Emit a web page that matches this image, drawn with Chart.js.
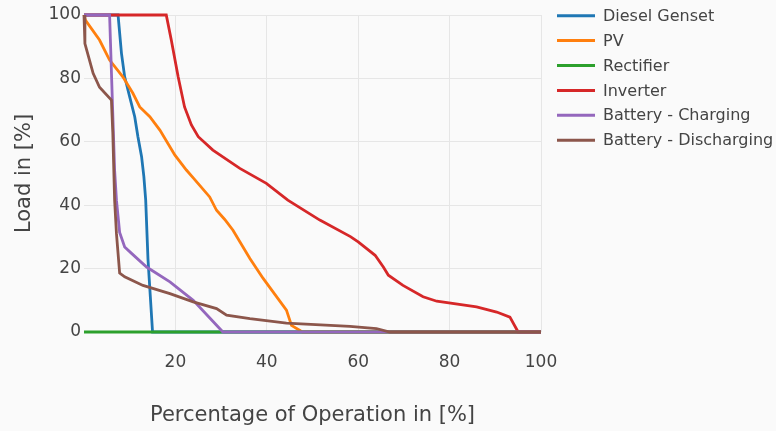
<!DOCTYPE html>
<html>
<head>
<meta charset="utf-8">
<script src="https://cdn.jsdelivr.net/npm/chart.js@4.4.1/dist/chart.umd.min.js"></script>
<style>
  html, body { margin: 0; padding: 0; background: #fafafa; }
  #wrap { width: 776px; height: 431px; position: relative; }
</style>
</head>
<body>
<div id="wrap"><canvas id="c" width="776" height="431"></canvas></div>
<script>
// Load duration curves: share of operating time (x, %) at or above each load level (y, %)
const seriesNames = ['Diesel Genset', 'PV', 'Rectifier', 'Inverter', 'Battery - Charging', 'Battery - Discharging'];
const seriesColors = ['#1f77b4', '#ff7f0e', '#2ca02c', '#d62728', '#9467bd', '#8c564b'];

const xTicks = [0, 20, 40, 60, 80, 100];
const yTicks = [0, 20, 40, 60, 80, 100];

const dieselX = [0, 7.45, 8.2, 8.9, 10.0, 11.1, 11.8, 12.6, 13.1, 13.5, 14.0, 15.0, 100];
const dieselY = [100, 100, 87.9, 80.5, 74.2, 67.9, 61.6, 55.3, 49, 41.6, 23, 0, 0];

const pvX = [0, 0.3, 3.4, 5.6, 8.5, 10.7, 12.2, 14.4, 16.6, 19.9, 22.4, 23.9, 27.5, 29.0, 30.8, 32.6, 36.3, 39.2, 44.3, 45.4, 47.8, 100];
const pvY = [100, 98.4, 92.1, 85.8, 80.5, 75.3, 71, 67.9, 63.7, 55.8, 51.1, 48.6, 42.6, 38.4, 35.5, 32.1, 23.2, 16.9, 6.9, 2.1, 0, 0];

const rectifierX = [0, 100];
const rectifierY = [0, 0];

const inverterX = [0, 18.0, 19.1, 20.6, 22.0, 23.5, 25.0, 28.2, 34.1, 39.9, 44.6, 51.6, 58.3, 60.0, 63.7, 65.5, 66.6, 69.8, 74.2, 77.2, 85.9, 90.3, 93.2, 95.0, 100];
const inverterY = [100, 100, 92.1, 80.5, 71, 65.3, 61.6, 57.4, 51.6, 46.9, 41.6, 35.3, 30.1, 28.4, 24.2, 20.5, 17.9, 14.7, 11.1, 9.7, 7.9, 6.3, 4.7, 0, 0];

const chargingX = [0, 5.6, 6.35, 6.7, 7.1, 7.8, 8.9, 10.4, 13.7, 18.8, 23.9, 30.4, 100];
const chargingY = [100, 100, 66.5, 51, 41.6, 31.4, 26.8, 24.8, 20.5, 15.8, 10, 0, 0];

const dischargingX = [0, 0.2, 2.0, 3.4, 6.0, 6.3, 6.7, 7.1, 7.8, 8.9, 12.9, 18.8, 23.9, 29.0, 31.2, 36.3, 44.3, 58.2, 64.0, 66.9, 100];
const dischargingY = [100, 91, 81.6, 77.2, 73.2, 63, 41.6, 31.1, 18.6, 17.4, 14.7, 12.1, 9.5, 7.4, 5.3, 4.2, 2.8, 1.8, 1.1, 0, 0];

const seriesX = [dieselX, pvX, rectifierX, inverterX, chargingX, dischargingX];
const seriesY = [dieselY, pvY, rectifierY, inverterY, chargingY, dischargingY];

const FONT = 'DejaVu Sans';
const TEXT = '#444';
const GRID = '#e6e6e6';

const datasets = seriesNames.map((name, i) => ({
  label: name,
  data: seriesX[i].map((x, k) => ({ x: x, y: seriesY[i][k] })),
  borderColor: seriesColors[i],
  backgroundColor: seriesColors[i],
  borderWidth: 2.8,
  pointRadius: 0,
  tension: 0,
  fill: false,
  clip: false,
  // later series paint over earlier ones
  order: seriesNames.length - i
}));

// Legend drawn as line samples with labels to the right of the plot
const seriesKey = {
  id: 'seriesKey',
  afterDraw(chart) {
    const ctx = chart.ctx;
    const x0 = chart.chartArea.right + 16;
    ctx.save();
    ctx.font = '16px "' + FONT + '"';
    ctx.textAlign = 'left';
    ctx.textBaseline = 'middle';
    seriesNames.forEach((name, i) => {
      const y = 15.7 + i * 24.9;
      ctx.strokeStyle = seriesColors[i];
      ctx.lineWidth = 3;
      ctx.beginPath();
      ctx.moveTo(x0, y);
      ctx.lineTo(x0 + 38, y);
      ctx.stroke();
      ctx.fillStyle = TEXT;
      ctx.fillText(name, x0 + 46, y + 1);
    });
    ctx.restore();
  }
};

new Chart(document.getElementById('c'), {
  type: 'line',
  data: { datasets: datasets },
  plugins: [seriesKey],
  options: {
    responsive: false,
    animation: false,
    devicePixelRatio: 1,
    layout: { padding: { top: 15, right: 235, bottom: 0, left: 0 } },
    plugins: {
      legend: { display: false },
      tooltip: { enabled: false }
    },
    scales: {
      x: {
        type: 'linear',
        min: 0,
        max: 100,
        afterBuildTicks: s => { s.ticks = xTicks.map(v => ({ value: v })); },
        afterFit: s => { s.height = 99; },
        border: { display: false },
        grid: {
          drawTicks: false,
          color: c => (c.tick && c.tick.value === 0) ? 'rgba(0,0,0,0)' : GRID
        },
        ticks: {
          padding: 20,
          color: TEXT,
          maxRotation: 0,
          autoSkip: false,
          font: { family: FONT, size: 17 },
          callback: v => (v === 0 ? '' : v)
        },
        title: {
          display: true,
          text: 'Percentage of Operation in [%]',
          color: TEXT,
          font: { family: FONT, size: 21 },
          padding: { top: 0, bottom: 3 }
        }
      },
      y: {
        type: 'linear',
        min: 0,
        max: 100,
        afterBuildTicks: s => { s.ticks = yTicks.map(v => ({ value: v })); },
        afterFit: s => { s.width = 84; },
        border: { display: false },
        grid: { drawTicks: false, color: GRID },
        ticks: {
          padding: 3,
          color: TEXT,
          font: { family: FONT, size: 17 }
        },
        title: {
          display: true,
          text: 'Load in [%]',
          color: TEXT,
          font: { family: FONT, size: 21 },
          padding: { top: 12, bottom: 0 }
        }
      }
    }
  }
});
</script>
</body>
</html>
